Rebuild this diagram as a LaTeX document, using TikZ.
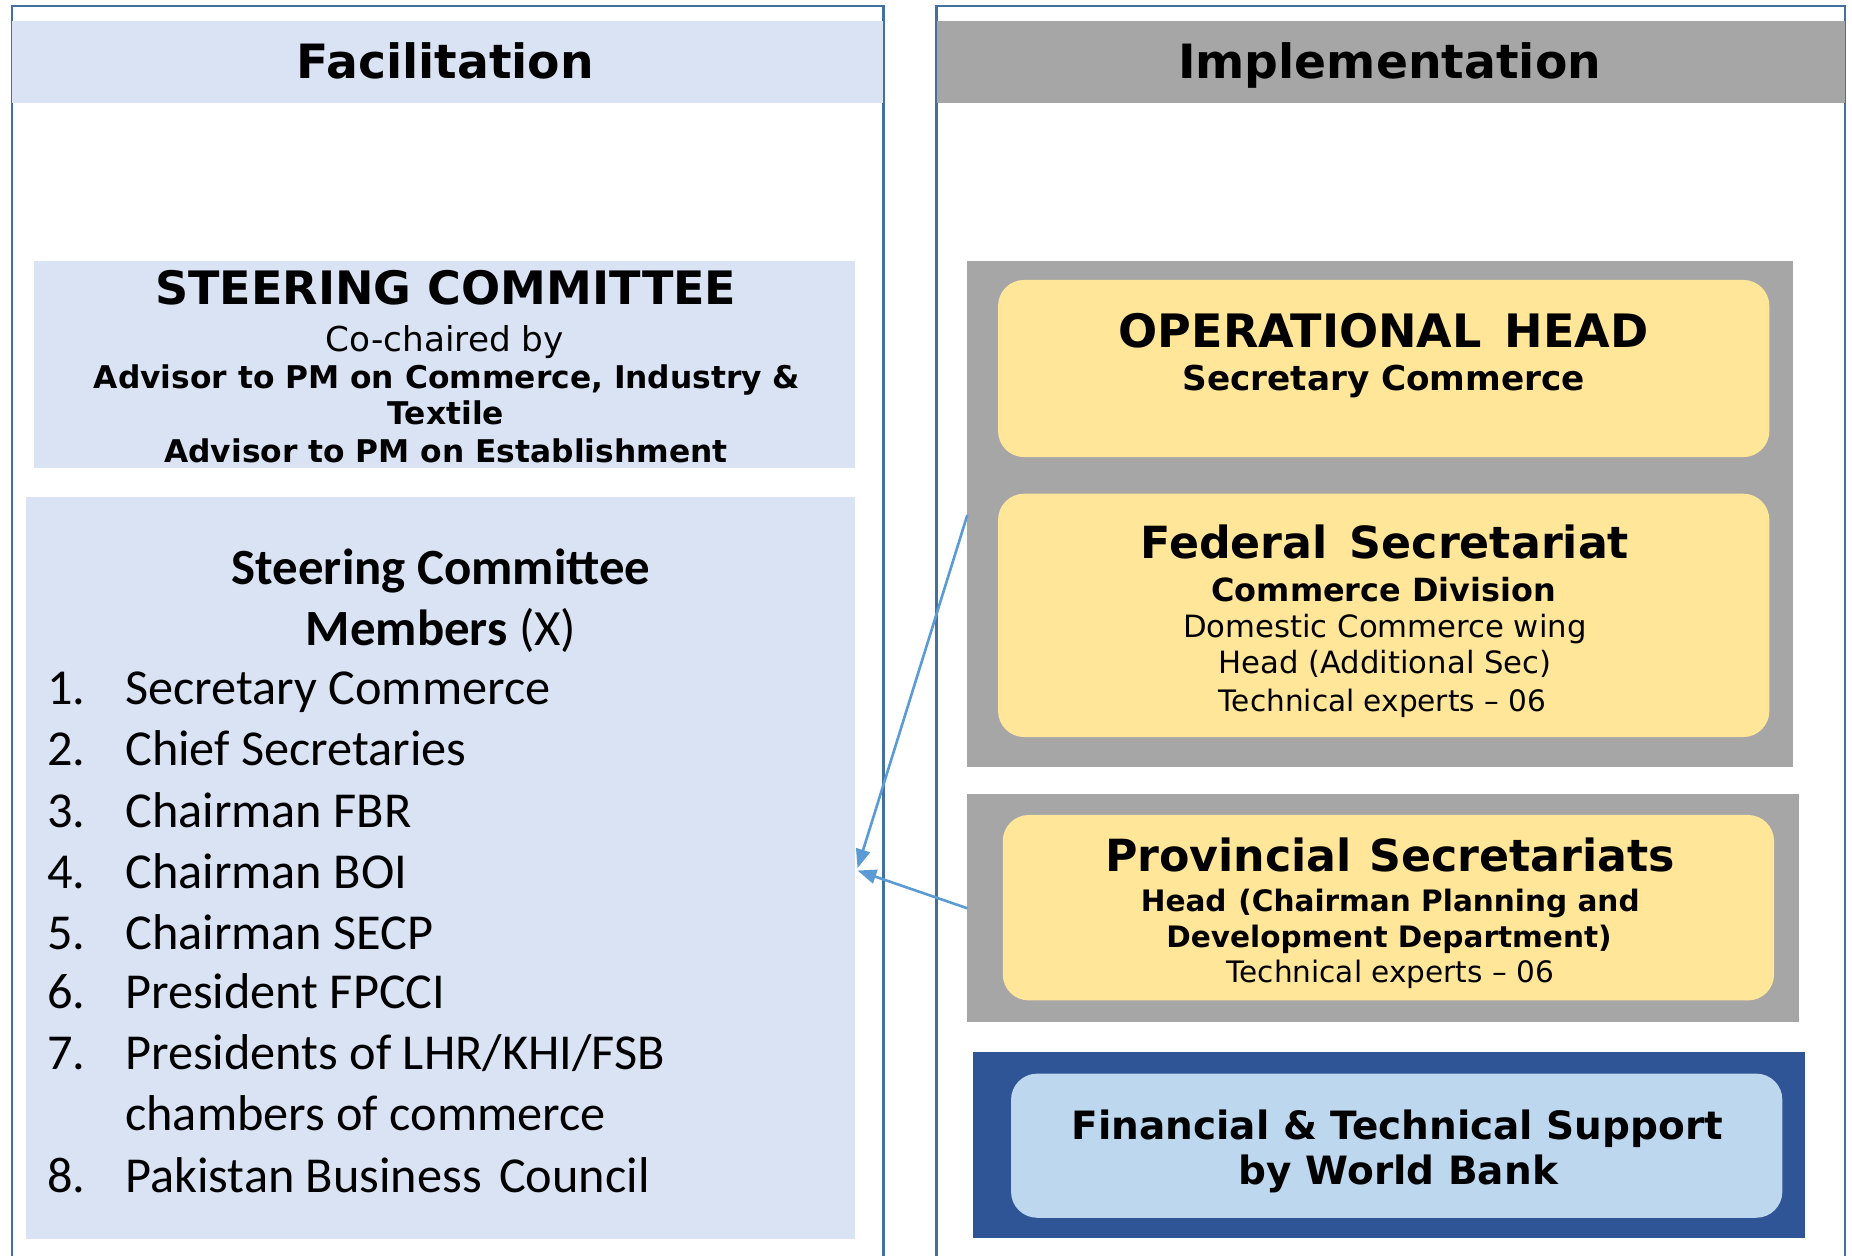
\documentclass[tikz,border=0pt]{standalone}
\usepackage{fontspec}
\setmainfont{DejaVu Sans}
\newfontfamily\calib{Carlito}
\usetikzlibrary{arrows.meta}
\definecolor{frameblue}{HTML}{41719C}
\definecolor{facfill}{HTML}{DAE3F3}
\definecolor{impgray}{HTML}{A6A6A6}
\definecolor{opyellow}{HTML}{FFE699}
\definecolor{wbdark}{HTML}{2F5597}
\definecolor{wblight}{HTML}{BDD7EE}
\definecolor{arrowblue}{HTML}{5B9BD5}
\newcommand\fs[1]{\fontsize{#1}{#1}\selectfont}
\begin{document}
\begin{tikzpicture}[x=1pt,y=-1pt,
  panel/.style={draw=none, inner sep=0pt, outer sep=0pt, anchor=north west},
  ybox/.style={panel, fill=opyellow, rounded corners=22pt},
  frameline/.style={draw=frameblue, line width=2pt},
  tx/.style={anchor=base, inner sep=0pt, outer sep=0pt},
  lst/.style={anchor=base west, inner sep=0pt, outer sep=0pt, font=\calib\fs{42.6}},
  arr/.style={draw=arrowblue, line width=2.2pt, -{Triangle[length=16pt,width=12pt]}}]
\useasboundingbox (0,0) rectangle (1568,1063);
\fill[white] (0,0) rectangle (1568,1063);
% frames
\draw[frameline] (10,1063) -- (10,5) -- (748,5) -- (748,1063);
\draw[frameline] (793,1063) -- (793,5) -- (1562,5) -- (1562,1063);
% headers
\node[panel, fill=facfill, minimum width=738pt, minimum height=69pt] (fach) at (10,18) {};
\node[panel, fill=impgray, minimum width=769pt, minimum height=69pt] (imph) at (793,18) {};
\node[tx, font=\bfseries\fs{40}] (factxt) at (377,66.6) {Facilitation};
\node[tx, font=\bfseries\fs{40}] (imptxt) at (1176.5,66.6) {Implementation};
% left panels
\node[panel, fill=facfill, minimum width=695pt, minimum height=175pt] (steer) at (29,221) {};
\node[panel, fill=facfill, minimum width=702pt, minimum height=628pt] (mem) at (22,421) {};
% right panels
\node[panel, fill=impgray, minimum width=699pt, minimum height=428pt] (g1) at (819,221) {};
\node[ybox, minimum width=653pt, minimum height=150pt] (oph) at (845,237) {};
\node[ybox, minimum width=653pt, minimum height=206pt] (fed) at (845,418) {};
\node[panel, fill=impgray, minimum width=704pt, minimum height=193pt] (g2) at (819,672) {};
\node[ybox, minimum width=653pt, minimum height=157pt] (prov) at (849,690) {};
\node[panel, fill=wbdark, minimum width=704pt, minimum height=157pt] (wbd) at (824,891) {};
\node[ybox, fill=wblight, minimum width=653pt, minimum height=122pt] (wbl) at (856,909) {};
% steering committee text
\node[tx, font=\bfseries\fs{39}] (st1) at (377.5,258) {STEERING COMMITTEE};
\node[tx, font=\fs{29}] (st2) at (376.5,297.6) {Co-chaired by};
\node[tx, font=\bfseries\fs{26.5}] (st3) at (378.5,328.7) {Advisor to PM on Commerce, Industry \&};
\node[tx, font=\bfseries\fs{26.5}] (st4) at (377.5,359.7) {Textile};
\node[tx, font=\bfseries\fs{26.5}] (st5) at (377.5,391.7) {Advisor to PM on Establishment};
% members
\node[tx, font=\calib\bfseries\fs{43}] (m0a) at (373.5,494.5) {Steering Committee};
\node[tx, font=\calib\fs{43}] (m0b) at (373.5,546.5) {\bfseries Members\mdseries\ (X)};
\foreach \n/\y/\s in {1/596.5/{Secretary Commerce}, 2/648.5/{Chief Secretaries}, 3/700.5/{Chairman FBR}, 4/752.5/{Chairman BOI}, 5/803.5/{Chairman SECP}, 6/853.5/{President FPCCI}, 7/905.5/{Presidents of LHR/KHI/FSB}, 8/1009.5/{Pakistan Business\hspace{0.12em} Council}}{
  \node[lst] (num\n) at (40,\y) {\n.};
  \node[lst] (item\n) at (106,\y) {\s};
}
\node[lst] (item7b) at (106,957.5) {chambers of commerce};
% operational head
\node[tx, font=\bfseries\fs{39}] (op1) at (1171.5,294) {OPERATIONAL\hspace{0.5em}HEAD};
\node[tx, font=\bfseries\fs{29}] (op2) at (1171.5,330.6) {Secretary Commerce};
% federal
\node[tx, font=\bfseries\fs{37.5}] (fe1) at (1172.5,472.7) {Federal\hspace{0.5em}Secretariat};
\node[tx, font=\bfseries\fs{27}] (fe2) at (1171.5,508.9) {Commerce Division};
\node[tx, font=\fs{26}] (fe3) at (1172.5,539.5) {Domestic Commerce wing};
\node[tx, font=\fs{26}] (fe4) at (1172.5,570.5) {Head (Additional Sec)};
\node[tx, font=\fs{25}] (fe5) at (1170.5,602) {Technical experts -- 06};
% provincial
\node[tx, font=\bfseries\fs{37.5}] (pr1) at (1177,737.7) {Provincial\hspace{0.4em}Secretariats};
\node[tx, font=\bfseries\fs{25}] (pr2) at (1177,772) {Head\hspace{0.4em}(Chairman Planning and};
\node[tx, font=\bfseries\fs{25}] (pr3) at (1176,802) {Development Department)};
\node[tx, font=\fs{25}] (pr4) at (1177,832) {Technical experts -- 06};
% world bank
\node[tx, font=\bfseries\fs{33}] (wb1) at (1183,965) {Financial \& Technical Support};
\node[tx, font=\bfseries\fs{33}] (wb2) at (1184,1003) {by World Bank};
% arrows
\draw[arr] ([yshift=-215pt]g1.north west) -- ([xshift=2pt,yshift=-314pt]mem.north east);
\draw[arr] ([yshift=-97pt]g2.north west) -- ([xshift=2pt,yshift=-316pt]mem.north east);
\end{tikzpicture}
\end{document}
